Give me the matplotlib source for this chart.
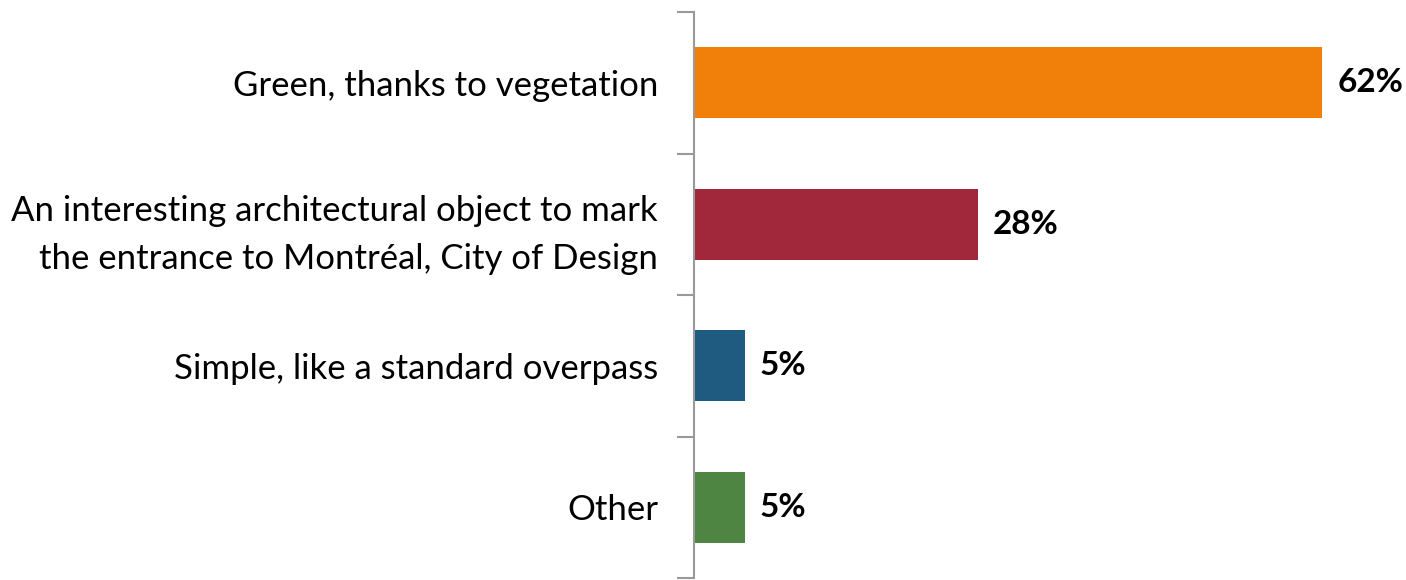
import numpy as np
import matplotlib
matplotlib.use("Agg")
import matplotlib.pyplot as plt

plt.rcParams['font.family'] = ['Lato', 'DejaVu Sans']

categories = ["Green, thanks to vegetation",
              "An interesting architectural object to mark\nthe entrance to Montréal, City of Design",
              "Simple, like a standard overpass",
              "Other"]
values = [62, 28, 5, 5]
colors = ["#F0800A", "#A0283A", "#1F5A80", "#4E8542"]

fig = plt.figure(figsize=(14.06, 5.8), dpi=100)
# axes placed in pixel terms: x 694..1403, y 12..578
ax = fig.add_axes([694/1406, 2/580, 709/1406, 566/580])

y = np.arange(len(categories))
ax.barh(y, values, height=0.5, color=colors)
ax.set_ylim(len(categories) - 0.5, -0.5)
ax.set_xlim(0, 70)

for yi, v in zip(y, values):
    ax.text(v + 1.5, yi, f"{v}%", va="center", ha="left",
            fontsize=24, fontweight="bold", color="black")

ax.set_yticks(np.arange(len(categories) + 1) - 0.5)
ax.set_yticklabels([])
ax.set_yticks(y, minor=True)
ax.set_yticklabels(categories, minor=True, fontsize=25, ha="right", linespacing=1.6)
ax.tick_params(axis="y", which="major", length=12, width=1.5, color="#999999", direction="out")
ax.tick_params(axis="y", which="minor", length=0, pad=26)
ax.set_xticks([])

for s in ["top", "right", "bottom"]:
    ax.spines[s].set_visible(False)
ax.spines["left"].set_color("#999999")
ax.spines["left"].set_linewidth(1.5)

fig.savefig("out.png", dpi=100)
